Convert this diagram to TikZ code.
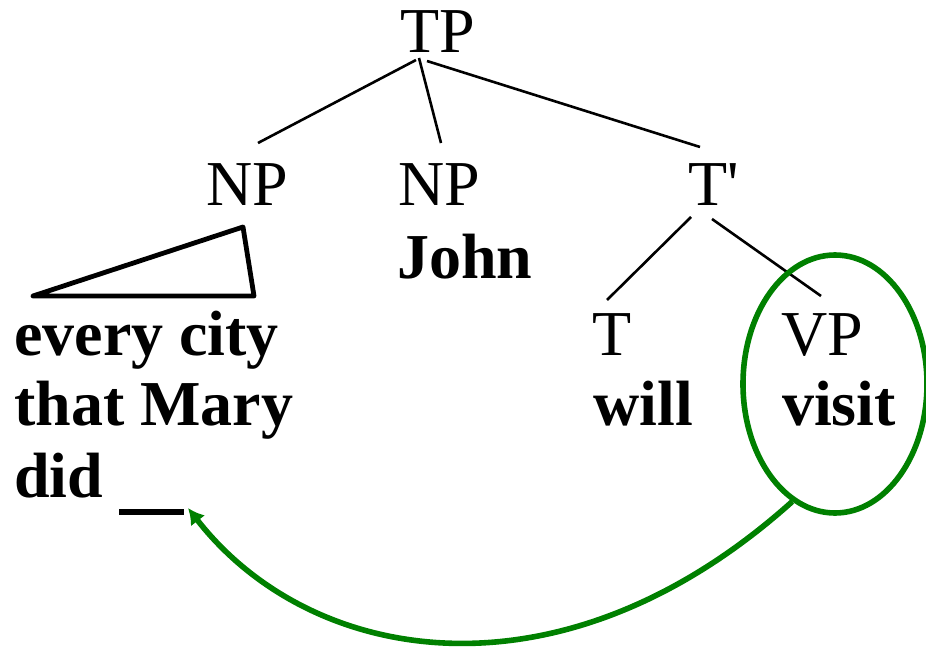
\documentclass[tikz,border=0pt]{standalone}
\usepackage{fontspec}
\setmainfont{Liberation Serif}
\usetikzlibrary{shapes.geometric,arrows.meta}
\begin{document}
\begin{tikzpicture}[x=1pt,y=-1pt,
  lab/.style={anchor=base,inner sep=0pt,font=\fontsize{64}{71}\selectfont},
  word/.style={lab,font=\fontsize{64}{71}\selectfont\bfseries},
  branch/.style={line width=2.6pt},
  roof/.style={line width=4.8pt,line join=round,line cap=round},
  ringline/.style={draw=green!50!black,line width=5.6pt}]
\useasboundingbox (0,0) rectangle (926,647);
% category labels
\node[lab] (tp)  at (438,53)  {TP};
\node[lab] (np1) at (247,206) {NP};
\node[lab] (np2) at (439,206) {NP};
\node[lab] (tb)  at (714,206) {T\textquotesingle};
\node[lab] (t)   at (612,355) {T};
\node[lab] (vp)  at (822,355) {VP};
% words
\node[word] (john)  at (465,278) {John};
\node[word] (will)  at (643,425) {will};
\node[word] (visit) at (839,425) {visit};
\node[word,anchor=base west] (l1) at (14,355) {every city};
\node[word,anchor=base west] (l2) at (14,425) {that Mary};
\node[word,anchor=base west] (l3) at (14,497) {did \rule[-18pt]{65pt}{6pt}};
\coordinate (gap) at (188,508);
% tree branches
\coordinate (tpa) at (416,60);
\coordinate (tpb) at (419,58);
\coordinate (tpc) at (427,61);
\draw[branch] (tpa) -- (258,143);
\draw[branch] (tpb) -- (441,143);
\draw[branch] (tpc) -- (700,147);
\draw[branch] (691,217) -- (607,300);
\draw[branch] (712,219) -- (821,296);
% roof over the NP
\draw[roof] (33,296) -- (243,227) -- (254,296) -- cycle;
% circled VP and its movement arrow
\node[ringline,ellipse,minimum width=184pt,minimum height=258pt,inner sep=0pt] (ring) at (835,384) {};
\draw[ringline,-{Latex[length=16pt,width=18pt]}] (ring.250)
  .. controls (560,710) and (310,665) .. (gap);
\end{tikzpicture}
\end{document}
